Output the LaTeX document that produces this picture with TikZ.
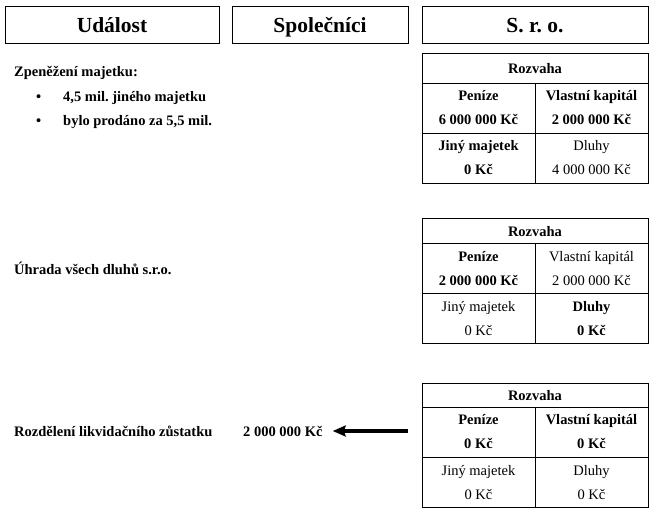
\documentclass[tikz,border=0pt]{standalone}
\usepackage{fontspec}
\setmainfont{Liberation Serif}
\usepackage{tikz}
\usetikzlibrary{positioning}
\usetikzlibrary{arrows, shapes, arrows.meta}
\frenchspacing
\def\tx{\fontsize{14.5}{24}\selectfont}
\tikzstyle{headbox} = [draw, rectangle, line width=0.8pt, minimum height=37pt, text height=17pt, text depth=2pt, inner sep=0pt, outer sep=0pt, font=\fontsize{21.5}{24}\selectfont\bfseries]
\tikzstyle{rozv} = [draw, rectangle, line width=0.8pt, minimum width=226pt, anchor=north west, text height=12pt, text depth=2pt, inner sep=0pt, outer sep=0pt, font=\tx\bfseries]
\tikzstyle{cell} = [draw, rectangle, line width=0.8pt, minimum width=113pt, minimum height=50pt, anchor=north west, align=center, inner sep=0pt, outer sep=0pt, font=\tx]
\tikzstyle{bcell} = [cell, font=\tx\bfseries]
\tikzstyle{txt} = [anchor=base west, inner sep=0pt, font=\tx\bfseries]
\tikzstyle{arrow} = [line width=3.2pt, -{Stealth[length=13pt, width=11pt, inset=2pt]}]

\begin{document}
\begin{tikzpicture}[x=1pt, y=-1pt]
\useasboundingbox (0,0) rectangle (657,515);
% column headers
\node (ev) [headbox, minimum width=214pt] at (112,24.5) {Událost};
\node (sp) [headbox, minimum width=176pt] at (320,24.5) {Společníci};
\node (sr) [headbox, minimum width=226pt] at (535,24.5) {S. r. o.};
% event 1
\node (e1) [txt] at (14,76) {Zpeněžení majetku:};
\node (b1) [txt] at (36,101) {•};
\node (b1t) [txt] at (63,101) {4,5 mil. jiného majetku};
\node (b2) [txt] at (36,125) {•};
\node (b2t) [txt] at (63,125) {bylo prodáno za 5,5 mil.};
\node (r1) [rozv, minimum height=30pt] at (422,53) {Rozvaha};
\node (p1) [bcell] at (422,83) {Peníze\\6 000 000 Kč};
\node (k1) [bcell] at (535,83) {Vlastní kapitál\\2 000 000 Kč};
\node (j1) [bcell] at (422,133) {Jiný majetek\\0 Kč};
\node (d1) [cell] at (535,133) {Dluhy\\4 000 000 Kč};
% event 2
\node (e2) [txt] at (14,274) {Úhrada všech dluhů s.r.o.};
\node (r2) [rozv, minimum height=25pt] at (422,218.5) {Rozvaha};
\node (p2) [bcell] at (422,243.5) {Peníze\\2 000 000 Kč};
\node (k2) [cell] at (535,243.5) {Vlastní kapitál\\2 000 000 Kč};
\node (j2) [cell] at (422,293.5) {Jiný majetek\\0 Kč};
\node (d2) [bcell] at (535,293.5) {Dluhy\\0 Kč};
% event 3
\node (e3) [txt] at (14,436) {Rozdělení likvidačního zůstatku};
\node (pay) [txt] at (243,436) {2 000 000 Kč};
\node (r3) [rozv, minimum height=24pt] at (422,383) {Rozvaha};
\node (p3) [bcell] at (422,407) {Peníze\\0 Kč};
\node (k3) [bcell] at (535,407) {Vlastní kapitál\\0 Kč};
\node (j3) [cell] at (422,457.5) {Jiný majetek\\0 Kč};
\node (d3) [cell] at (535,457.5) {Dluhy\\0 Kč};
\coordinate (a3) at (408,431);
\draw[arrow] (a3) -- ([xshift=10pt]a3 -| pay.east);
\end{tikzpicture}
\end{document}
